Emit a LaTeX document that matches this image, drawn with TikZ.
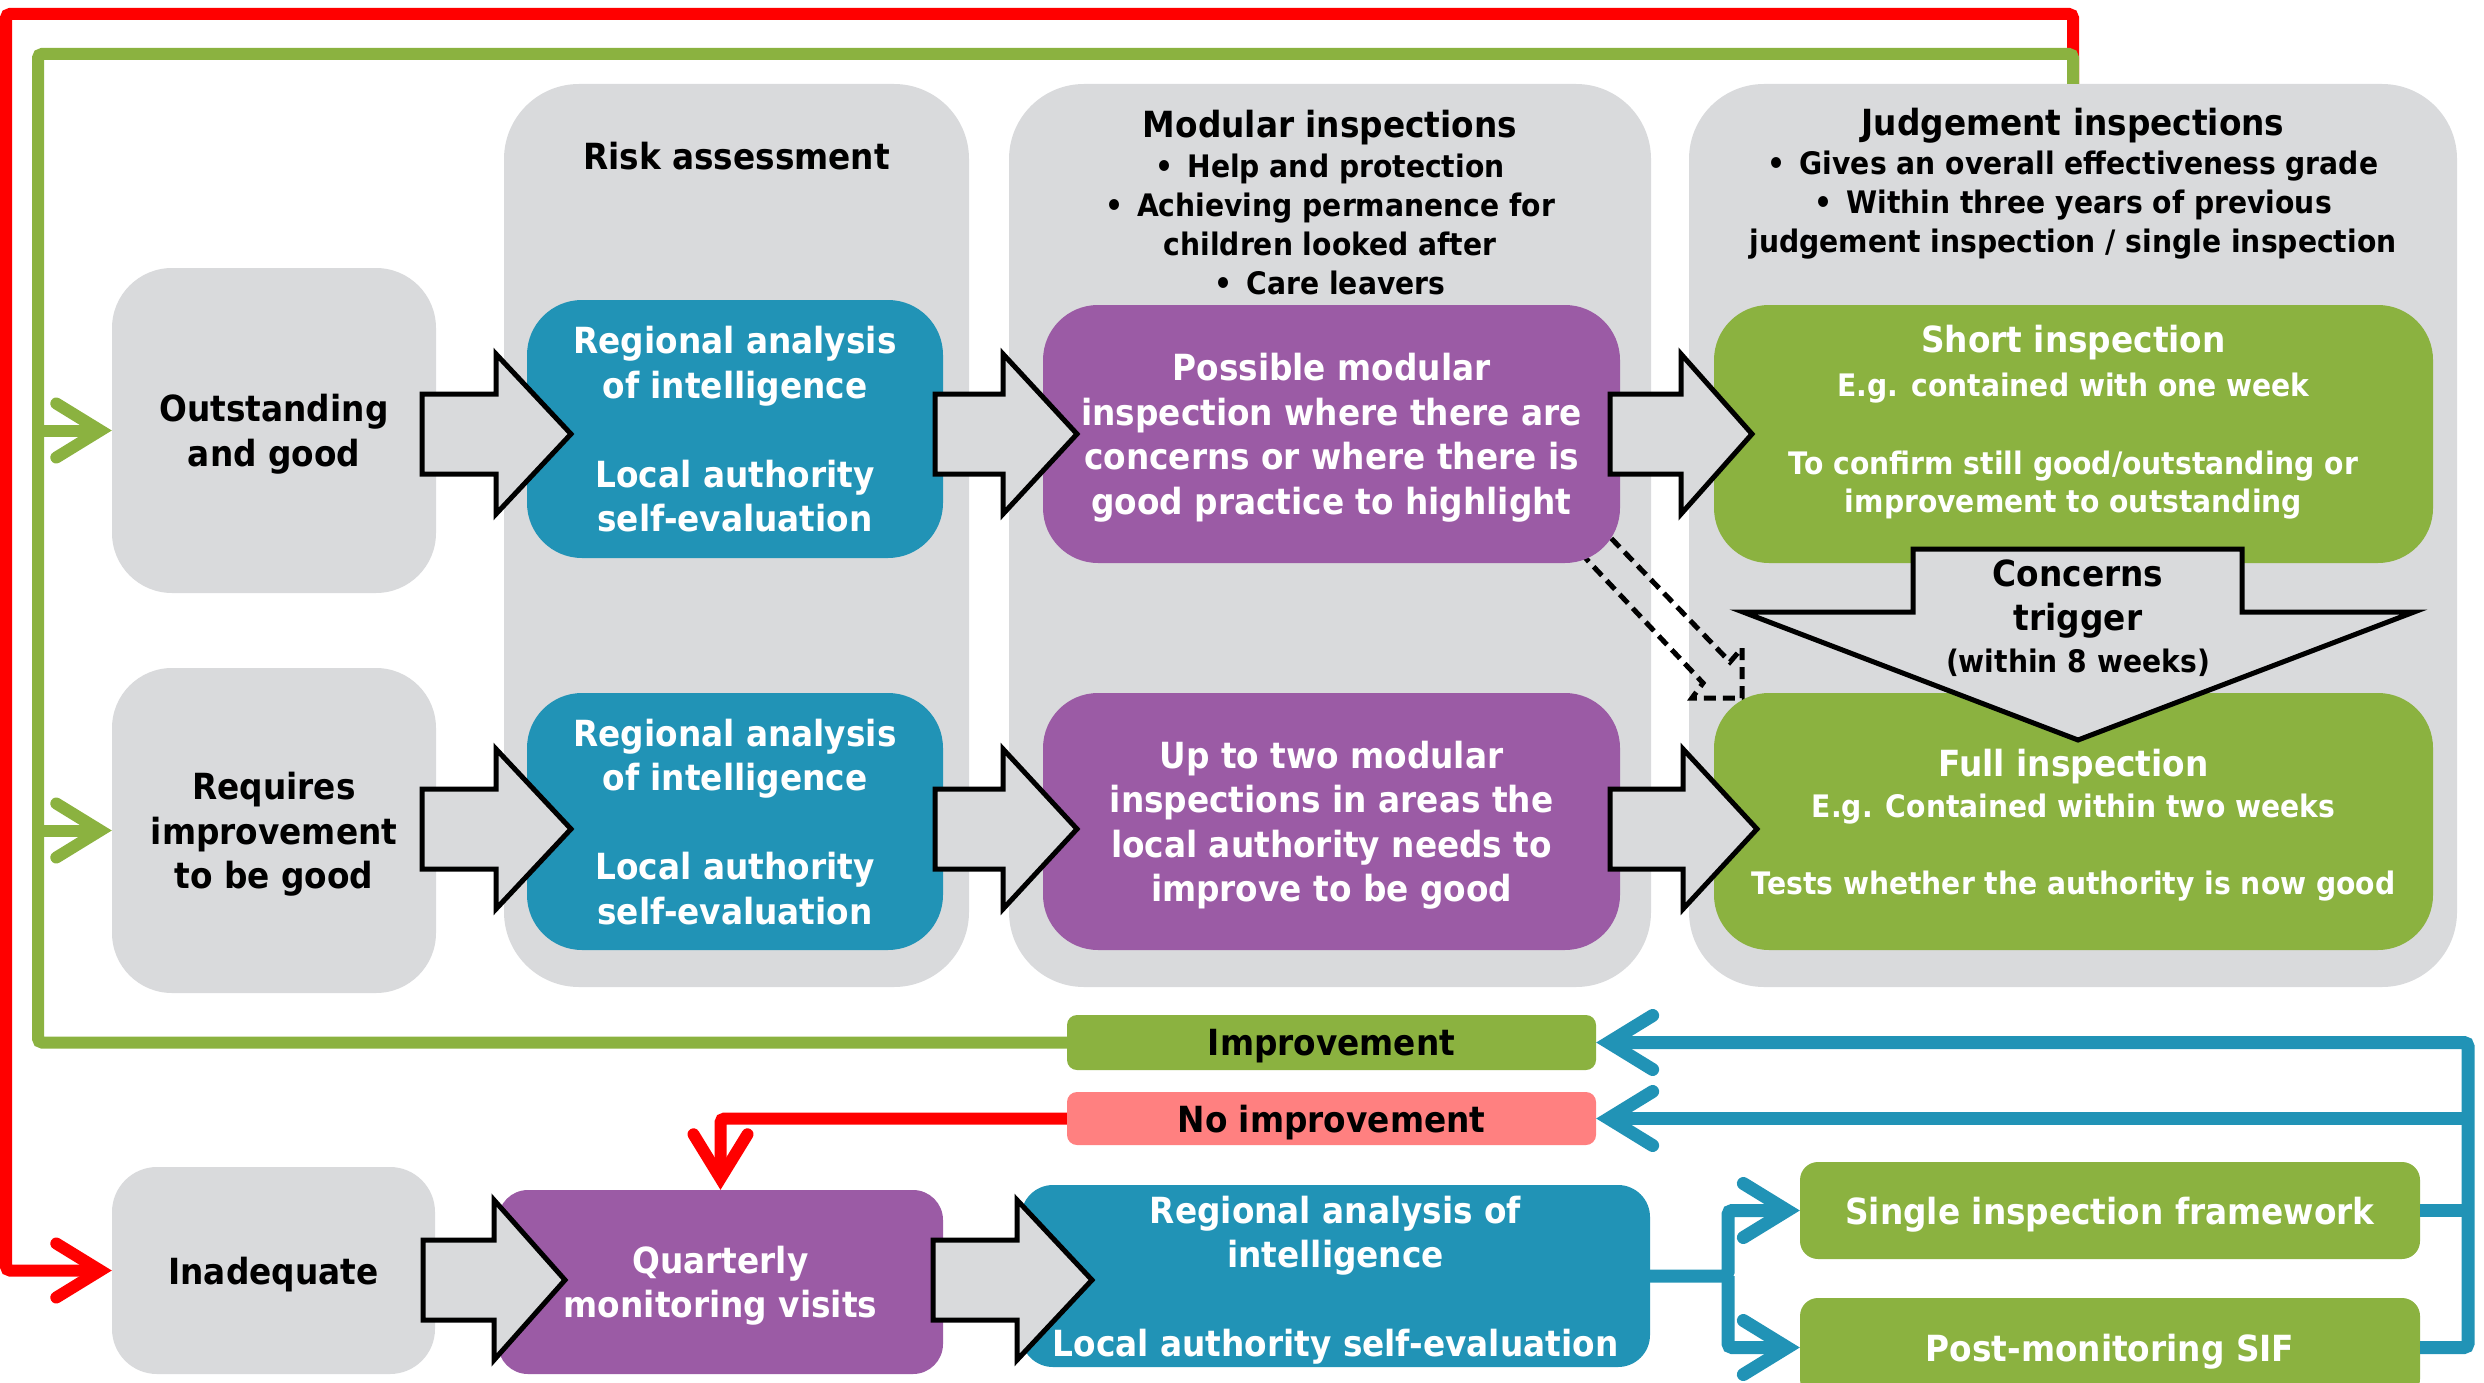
\documentclass[tikz,border=0pt]{standalone}
\usepackage{fontspec}
\setmainfont{DejaVu Sans}[FakeStretch=0.91]
\usepackage{tikz}
\usetikzlibrary{arrows.meta}

\definecolor{boxgrey}{RGB}{217,218,220}
\definecolor{ofblue}{RGB}{33,147,182}
\definecolor{ofpurple}{RGB}{155,91,165}
\definecolor{ofgreen}{RGB}{139,178,64}
\definecolor{ofpink}{RGB}{255,128,128}
\newcommand{\subsize}{\fontsize{31}{39}\selectfont}

\tikzset{
	bigfont/.style={font=\bfseries\fontsize{36}{44.5}\selectfont, text depth=0pt},
	smallfont/.style={font=\bfseries\fontsize{31}{39}\selectfont, text depth=0pt},
	boxsize/.style 2 args={minimum width=#1pt, minimum height=#2pt},
	column/.style={fill=boxgrey, rounded corners=75pt, inner sep=0pt},
	statebox/.style={fill=boxgrey, rounded corners=60pt, inner sep=0pt, bigfont, align=center},
	stage/.style={rounded corners=55pt, inner sep=0pt, text=white, bigfont, align=center},
	tag/.style={rounded corners=10pt, inner sep=0pt, bigfont},
	bigarrow/.style={fill=boxgrey, draw=black, line width=5pt, line join=miter},
	redline/.style={draw=red, line width=12pt, rounded corners=4pt},
	greenline/.style={draw=ofgreen, line width=12pt, rounded corners=4pt},
	blueline/.style={draw=ofblue, line width=13pt, rounded corners=4pt},
}

\begin{document}
\begin{tikzpicture}[x=1pt,y=1pt,yscale=-1,xscale=1, >={Straight Barb[length=44pt,width=54pt,line cap=round]}]
	\useasboundingbox (0,0) rectangle (2484,1383);
	
	%Shape: Columns
	\node [column, boxsize={465}{903}] (risk) at (736.5,535.5) {};
	\node [column, boxsize={642}{903}] (modular) at (1330,535.5) {};
	\node [column, boxsize={768}{903}] (judg) at (2073,535.5) {};
	
	% Text Node
	\node [bigfont] (risktitle) at (736.5,156) {Risk assessment};
	% Text Node
	\node [bigfont] (modtitle) at (1330,124) {Modular inspections};
	% Text Node
	\node [smallfont, align=center] (modlist) at (1330,224) {\textbullet\hspace{14pt}Help and protection\\\textbullet\hspace{14pt}Achieving permanence for\\children looked after\\\textbullet\hspace{14pt}Care leavers};
	% Text Node
	\node [bigfont] (judgtitle) at (2073,122) {Judgement inspections};
	% Text Node
	\node [smallfont, align=center] (judglist) at (2073,202) {\textbullet\hspace{14pt}Gives an overall effectiveness grade\\\textbullet\hspace{14pt}Within three years of previous\\judgement inspection / single inspection};
	
	%Dashed Arrow
	\draw [line width=5pt, dash pattern=on 12pt off 7pt] (1585,511) -- (1730,662) -- (1742,648) -- (1742,698) -- (1692,698) -- (1703,683) -- (1560,531);
	
	%Shape: Judgements
	\node [statebox, boxsize={324}{325}] (outst) at (274,430.5) {Outstanding\\and good};
	\node [statebox, boxsize={324}{325}] (reqs) at (274,830.5) {Requires\\improvement\\to be good};
	\node [statebox, rounded corners=45pt, boxsize={323}{207}] (inad) at (273.5,1270.5) {Inadequate};
	
	%Shape: Stages
	\node [stage, fill=ofblue, boxsize={416}{258}] (blueA) at (735,429) {Regional analysis\\of intelligence\\[44.5pt]Local authority\\self-evaluation};
	\node [stage, fill=ofblue, boxsize={416}{257}] (blueB) at (735,821.5) {Regional analysis\\of intelligence\\[44.5pt]Local authority\\self-evaluation};
	\node [stage, fill=ofpurple, boxsize={577}{258}] (purpA) at (1331.5,434) {Possible modular\\inspection where there are\\concerns or where there is\\good practice to highlight};
	\node [stage, fill=ofpurple, boxsize={577}{257}] (purpB) at (1331.5,821.5) {Up to two modular\\inspections in areas the\\local authority needs to\\improve to be good};
	\node [stage, fill=ofgreen, boxsize={719}{258}] (short) at (2073.5,434) {};
	\node [stage, fill=ofgreen, boxsize={719}{257}] (full) at (2073.5,821.5) {Full inspection\\[-3pt]{\subsize E.g. Contained within two weeks}\\[32pt]{\subsize Tests whether the authority is now good}};
	% Text Node
	\node [bigfont, text=white, align=center] (shorttext) at (2073.5,419) {Short inspection\\[-1pt]{\subsize E.g. contained with one week}\\[34pt]{\subsize To confirm still good/outstanding or}\\[-7pt]{\subsize improvement to outstanding}};
	
	\node [tag, fill=ofgreen, boxsize={529}{55}] (improve) at (1331.5,1042.5) {Improvement};
	\node [tag, fill=ofpink, boxsize={529}{53}] (noimp) at (1331.5,1118.5) {No improvement};
	
	\node [stage, fill=ofpurple, rounded corners=30pt, boxsize={445}{184}] (quart) at (720.5,1282) {Quarterly\\monitoring visits};
	\node [stage, fill=ofblue, rounded corners=32pt, boxsize={629}{182}] (blueC) at (1335.5,1276) {Regional analysis of\\intelligence\\[44pt]Local authority self-evaluation};
	\node [stage, fill=ofgreen, rounded corners=18pt, boxsize={620}{97}] (sif) at (2110,1210.5) {Single inspection framework};
	\node [stage, fill=ofgreen, rounded corners=18pt, boxsize={620}{99}] (pmsif) at (2110,1347.5) {Post-monitoring SIF};
	
	%Right Arrow
	\draw [bigarrow] (422,394) -- (496,394) -- (496,354) -- (571,434) -- (496,514) -- (496,474) -- (422,474) -- cycle ;
	%Right Arrow
	\draw [bigarrow] (935,394) -- (1003,394) -- (1003,354) -- (1077,434) -- (1003,514) -- (1003,474) -- (935,474) -- cycle ;
	%Right Arrow
	\draw [bigarrow] (1610,394) -- (1681,394) -- (1681,354) -- (1752,434) -- (1681,514) -- (1681,474) -- (1610,474) -- cycle ;
	%Right Arrow
	\draw [bigarrow] (422,789) -- (496,789) -- (496,749) -- (571,829) -- (496,909) -- (496,869) -- (422,869) -- cycle ;
	%Right Arrow
	\draw [bigarrow] (935,789) -- (1003,789) -- (1003,749) -- (1077,829) -- (1003,909) -- (1003,869) -- (935,869) -- cycle ;
	%Right Arrow
	\draw [bigarrow] (1610,789) -- (1683,789) -- (1683,749) -- (1757,829) -- (1683,909) -- (1683,869) -- (1610,869) -- cycle ;
	%Right Arrow
	\draw [bigarrow] (423,1240) -- (494,1240) -- (494,1200) -- (565,1280) -- (494,1360) -- (494,1320) -- (423,1320) -- cycle ;
	%Right Arrow
	\draw [bigarrow] (933,1240) -- (1017,1240) -- (1017,1200) -- (1092,1280) -- (1017,1360) -- (1017,1320) -- (933,1320) -- cycle ;
	%Down Arrow
	\draw [bigarrow] (1913,549) -- (2242,549) -- (2242,612) -- (2414,612) -- (2078,740) -- (1743,612) -- (1913,612) -- cycle ;
	% Text Node
	\node [bigfont, align=center] (concerns) at (2078,616) {Concerns\\trigger\\[-3pt]{\subsize (within 8 weeks)}};
	
	%Connectors
	\coordinate (rtop) at (6,14);
	\coordinate (gtop) at (38,54);
	\coordinate (bsplit) at (1728,1276);
	\coordinate (bright) at (2468,1042.5);
	
	\draw [redline, ->] (judg.north) |- (rtop) |- (inad.west);
	\draw [greenline] (judg.north) |- (gtop) |- (improve.west);
	\draw [greenline, ->] (gtop |- outst.west) -- (outst.west);
	\draw [greenline, ->] (gtop |- reqs.west) -- (reqs.west);
	\draw [redline, ->] (noimp.west) -| (quart.north);
	
	\draw [blueline, ->] (blueC.east) -- (bsplit) |- (sif.west);
	\draw [blueline, ->] (bsplit) |- (pmsif.west);
	\draw [blueline, ->] (pmsif.east) -| (bright) -- (improve.east);
	\draw [blueline] (sif.east) -- (sif.east -| bright);
	\draw [blueline, ->] (noimp.east -| bright) -- (noimp.east);
\end{tikzpicture}
\end{document}
